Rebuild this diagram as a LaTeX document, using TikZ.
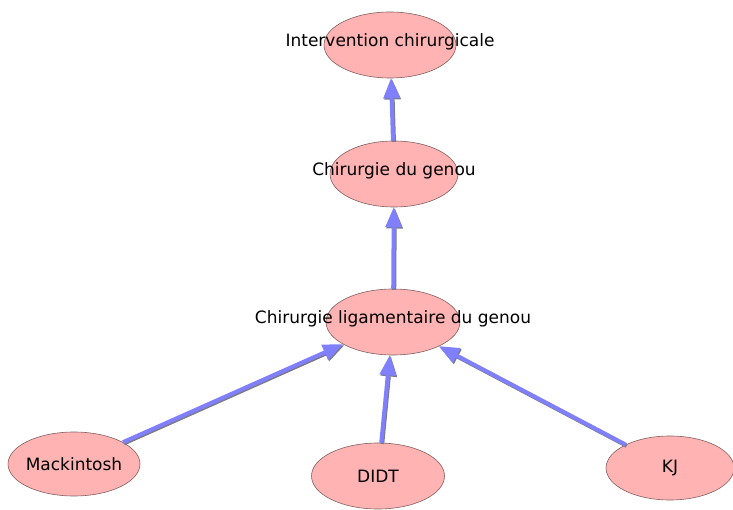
\documentclass[tikz,border=0pt]{standalone}
\usepackage{fontspec}
\setmainfont{DejaVu Sans}
\usetikzlibrary{arrows.meta,shapes.geometric}
\definecolor{nodefill}{HTML}{FFB3B3}
\definecolor{nodeline}{HTML}{806060}
\definecolor{edgecol}{HTML}{8080FF}
\definecolor{edgeshadow}{HTML}{7A7A88}
\begin{document}
\begin{tikzpicture}[x=1pt,y=1pt,
  elt/.style={ellipse,draw=nodeline,fill=nodefill,line width=0.6pt,minimum width=#1,minimum height=66pt,inner sep=0pt},
  elt/.default=132pt,
  lbl/.style={font=\fontsize{17}{20}\selectfont,text=black},
  edge/.style={
    preaction={draw=edgeshadow,line width=4pt,-{Triangle[length=20pt,width=17pt,fill=edgeshadow,line width=0pt]},transform canvas={shift={(1pt,-1.2pt)}}},
    draw=edgecol,line width=4pt,-{Triangle[length=20pt,width=17pt,fill=edgecol,line width=0pt]}}]
\useasboundingbox (0,0) rectangle (733,509);
\node[elt] (ic) at (390,464) {};
\node[elt=128pt] (cg) at (394,335) {};
\node[elt=134pt] (cl) at (393,187) {};
\node[elt=132pt,minimum height=64pt] (mk) at (74,45) {};
\node[elt=133pt] (di) at (378,33) {};
\node[elt=128pt,minimum height=64pt] (kj) at (670,41) {};
\draw[edge] (mk) -- (cl);
\draw[edge] (di) -- (cl);
\draw[edge] (kj) -- (cl);
\draw[edge] (cl) -- (cg);
\draw[edge] (cg) -- (ic);
\node[lbl] (tic) at ([yshift=3pt]ic.center) {Intervention chirurgicale};
\node[lbl] (tcg) at ([yshift=3pt]cg.center) {Chirurgie du genou};
\node[lbl] (tcl) at ([yshift=3pt]cl.center) {Chirurgie ligamentaire du genou};
\node[lbl] (tmk) at (mk.center) {Mackintosh};
\node[lbl] (tdi) at (di.center) {DIDT};
\node[lbl] (tkj) at (kj.center) {KJ};
\end{tikzpicture}
\end{document}
